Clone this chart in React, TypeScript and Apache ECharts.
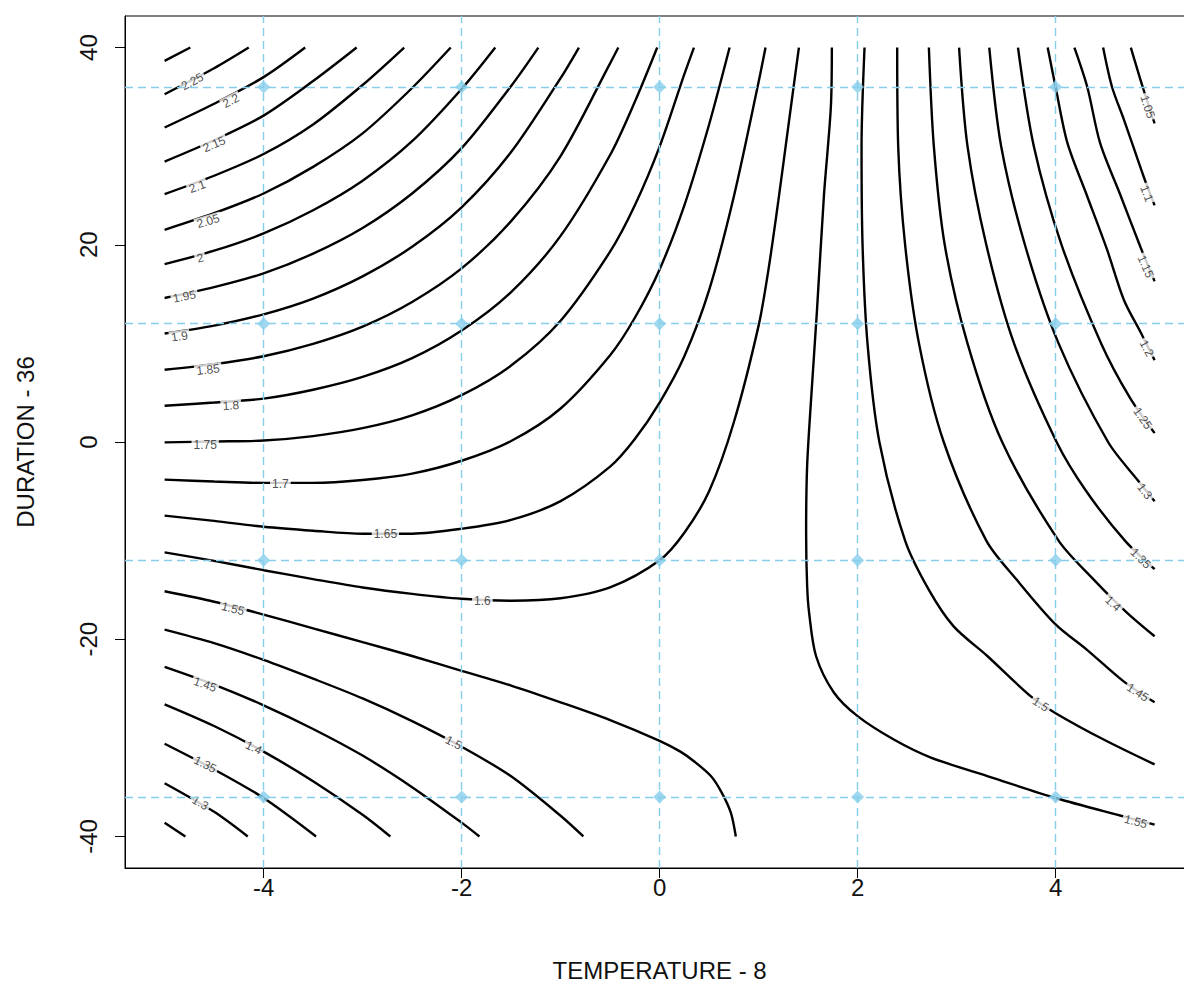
import React, { useEffect, useRef } from "react";
import * as echarts from "echarts";

const FONT = '"Liberation Sans", Arial, Helvetica, sans-serif';

// axis ticks
const xTicks = [-4, -2, 0, 2, 4];
const yTicks = [-40, -20, 0, 20, 40];

// design points (dashed reference lines pass through them)
const designX = [-4, -2, 0, 2, 4];
const designY = [-36, -12, 12, 36];

// contour polylines [x, y]
const c2_30 = [[-5, 38.65], [-4.74, 40]];
const c2_25 = [[-5, 35.27], [-4.5, 37.9], [-4.15, 40]];
const c2_20 = [[-5, 31.89], [-4.5, 34.3], [-4, 37.0], [-3.58, 40]];
const c2_15 = [[-5, 28.44], [-4.5, 30.6], [-4, 33.1], [-3.5, 36.6], [-3.06, 40]];
const c2_10 = [[-5, 25.14], [-4.5, 27.0], [-4, 29.2], [-3.5, 32.2], [-3, 36.2], [-2.58, 40]];
const c2_05 = [[-5, 21.52], [-4.5, 23.2], [-4, 25.2], [-3.5, 27.9], [-3, 31.3], [-2.5, 35.9], [-2.11, 40]];
const c2_00 = [[-5, 18.04], [-4.5, 19.4], [-4, 21.15], [-3.5, 23.5], [-3, 26.5], [-2.5, 30.5], [-2, 35.8], [-1.66, 40]];
const c1_95 = [[-5, 14.6], [-4.5, 15.7], [-4, 17.1], [-3.5, 19.1], [-3, 21.7], [-2.5, 25.2], [-2, 29.8], [-1.5, 36.1], [-1.225, 40]];
const c1_90 = [[-5, 11.0], [-4.5, 11.8], [-4, 12.95], [-3.5, 14.55], [-3, 16.8], [-2.5, 19.8], [-2, 23.8], [-1.5, 29.4], [-1, 36.9], [-0.815, 40]];
const c1_85 = [[-5, 7.33], [-4.5, 7.9], [-4, 8.7], [-3.5, 9.95], [-3, 11.7], [-2.5, 14.2], [-2, 17.6], [-1.5, 22.4], [-1, 29.0], [-0.5, 38.4], [-0.417, 40]];
const c1_80 = [[-5, 3.68], [-4.5, 4.0], [-4, 4.4], [-3.5, 5.3], [-3, 6.6], [-2.5, 8.5], [-2, 11.3], [-1.5, 15.2], [-1, 20.9], [-0.5, 29.1], [-0.25, 34.5], [-0.024, 40]];
const c1_75 = [[-5, -0.04], [-4.5, 0.05], [-4, 0.15], [-3.5, 0.6], [-3, 1.4], [-2.5, 2.7], [-2, 4.75], [-1.5, 7.75], [-1, 12.3], [-0.5, 19.3], [-0.25, 24.0], [0, 29.95], [0.25, 37.3], [0.347, 40]];
const c1_70 = [[-5, -3.82], [-4.5, -4.0], [-4, -4.15], [-3.5, -4.15], [-3, -3.85], [-2.5, -3.2], [-2, -1.9], [-1.5, 0.1], [-1, 3.4], [-0.5, 8.8], [-0.25, 12.6], [0, 17.5], [0.25, 24.0], [0.5, 32.2], [0.707, 40]];
const c1_65 = [[-5, -7.47], [-4.5, -8.0], [-4, -8.6], [-3.5, -9.0], [-3, -9.3], [-2.5, -9.3], [-2, -8.8], [-1.5, -7.9], [-1, -6.0], [-0.5, -2.5], [-0.25, 0.3], [0, 4.0], [0.25, 8.7], [0.5, 15.4], [0.75, 24.9], [1, 36.5], [1.07, 40]];
const c1_60 = [[-5, -11.19], [-4.5, -12.05], [-4, -13.0], [-3.5, -13.9], [-3, -14.75], [-2.5, -15.4], [-2, -15.9], [-1.5, -16.1], [-1, -15.85], [-0.5, -14.75], [0, -12.0], [0.25, -9.2], [0.5, -5.0], [0.75, 2.0], [1, 11.8], [1.1, 17.5], [1.2, 24.5], [1.3, 32.0], [1.36, 36.5], [1.407, 40]];
const c1_55a = [[-5, -15.14], [-4.5, -16.2], [-4, -17.5], [-3.5, -18.9], [-3, -20.3], [-2.5, -21.7], [-2, -23.2], [-1.5, -24.7], [-1, -26.4], [-0.5, -28.2], [0, -30.3], [0.21, -31.4], [0.35, -32.4], [0.52, -33.9], [0.63, -35.6], [0.72, -37.6], [0.77, -40]];
const c1_50a = [[-5, -19.03], [-4.5, -20.4], [-4, -22.1], [-3.5, -24.0], [-3, -26.0], [-2.5, -28.3], [-2, -30.9], [-1.5, -33.9], [-1, -37.9], [-0.77, -40]];
const c1_45a = [[-5, -22.8], [-4.5, -24.6], [-4, -26.7], [-3.5, -29.1], [-3, -31.8], [-2.5, -35.0], [-2, -38.6], [-1.82, -40]];
const c1_40a = [[-5, -26.6], [-4.5, -28.8], [-4, -31.4], [-3.5, -34.4], [-3, -37.8], [-2.72, -40]];
const c1_35a = [[-5, -30.6], [-4.5, -33.2], [-4, -36.1], [-3.47, -40]];
const c1_30a = [[-5, -34.6], [-4.5, -37.5], [-4.16, -40]];
const c1_25a = [[-5, -38.6], [-4.79, -40]];
const c1_55b = [[1.74, 40], [1.73, 34], [1.66, 25], [1.59, 13.4], [1.53, 4.3], [1.49, -2.5], [1.48, -9.2], [1.49, -14.5], [1.51, -17.3], [1.58, -21.7], [1.76, -25.4], [2.0, -27.8], [2.37, -30.2], [2.74, -32.0], [3.35, -34.0], [4.0, -36.1], [4.66, -37.9], [5, -38.8]];
const c1_50b = [[2.07, 40], [2.04, 30], [2.05, 20], [2.1, 10], [2.22, 0], [2.48, -10], [2.72, -15], [2.97, -18.7], [3.31, -21.7], [3.75, -25.8], [4.0, -27.5], [4.49, -30.2], [5, -32.7]];
const c1_45b = [[2.4, 40], [2.41, 30], [2.48, 20], [2.62, 10], [2.87, 0], [3.3, -10], [3.61, -14], [4.0, -18.5], [4.32, -21.1], [4.69, -24.3], [5, -26.4]];
const c1_40b = [[2.72, 40], [2.77, 30], [2.88, 20], [3.11, 10], [3.46, 0], [4.03, -10], [4.39, -14], [4.72, -17.3], [5, -19.7]];
const c1_35b = [[3.025, 40], [3.11, 30], [3.3, 20], [3.58, 10], [4.01, 0], [4.31, -5], [4.7, -10], [5, -12.9]];
const c1_30b = [[3.33, 40], [3.45, 30], [3.69, 20], [4.03, 10], [4.53, 0], [4.84, -4], [5, -6.0]];
const c1_25b = [[3.62, 40], [3.78, 30], [4.06, 20], [4.46, 10], [4.75, 4.5], [5, 0.9]];
const c1_20b = [[3.92, 40], [4.0, 36], [4.12, 30.3], [4.32, 24.9], [4.52, 19.5], [4.69, 14.4], [4.86, 11.1], [5, 8.3]];
const c1_15b = [[4.19, 40], [4.32, 36], [4.45, 30.3], [4.66, 24.9], [4.86, 19.7], [5, 16.3]];
const c1_10b = [[4.48, 40], [4.57, 36], [4.69, 32.7], [4.89, 26.9], [5, 24.0]];
const c1_05b = [[4.76, 40], [4.88, 36], [5, 32.3]];

const contours = [
  c2_30, c2_25, c2_20, c2_15, c2_10, c2_05, c2_00, c1_95, c1_90, c1_85, c1_80,
  c1_75, c1_70, c1_65, c1_60, c1_55a, c1_50a, c1_45a, c1_40a, c1_35a, c1_30a, c1_25a,
  c1_55b, c1_50b, c1_45b, c1_40b, c1_35b, c1_30b, c1_25b, c1_20b, c1_15b, c1_10b, c1_05b,
];

// contour labels: text and position on its line
const labelText = [
  "2.25", "2.2", "2.15", "2.1", "2.05", "2", "1.95", "1.9", "1.85", "1.8", "1.75", "1.7", "1.65", "1.6",
  "1.55", "1.5", "1.45", "1.4", "1.35", "1.3",
  "1.05", "1.1", "1.15", "1.2", "1.25", "1.3", "1.35", "1.4", "1.45", "1.5", "1.55",
];
const labelAt = [
  [-4.72, 36.55], [-4.33, 34.6], [-4.5, 30.2], [-4.67, 25.9], [-4.56, 22.4], [-4.64, 18.65], [-4.8, 14.75],
  [-4.85, 10.7], [-4.56, 7.33], [-4.33, 3.68], [-4.59, -0.3], [-3.83, -4.3], [-2.77, -9.35], [-1.79, -16.1],
  [-4.31, -16.9], [-2.08, -30.5], [-4.59, -24.6], [-4.1, -31.0], [-4.59, -32.7], [-4.64, -36.6],
  [4.93, 34.0], [4.92, 25.2], [4.91, 17.8], [4.92, 9.5], [4.88, 2.4], [4.9, -5.0], [4.86, -11.8],
  [4.58, -16.4], [4.83, -25.4], [3.85, -26.6], [4.81, -38.5],
];
const labelAngles = [
  28, 27, 23, 20, 17, 14, 11, 8, 7, 4, 0, 0, 0, 0,
  -14, -27, -19, -26, -27, -30,
  -72, -69, -66, -62, -55, -52, -45, -42, -33, -33, -15,
];

export default function App() {
  const ref = useRef<HTMLDivElement>(null);

  useEffect(() => {
    if (!ref.current) return;
    const chart = echarts.init(ref.current, null, { renderer: "svg" });

    const lineSeries = contours.map((pts) => ({
      type: "line",
      data: pts,
      symbol: "none",
      showSymbol: false,
      smooth: 0.3,
      silent: true,
      z: 2,
      lineStyle: { color: "#000", width: 2.4 },
    }));

    const labelData = labelText.map((t, i) => ({
      name: t,
      value: labelAt[i],
      label: { rotate: labelAngles[i] },
    }));

    const dots: number[][] = [];
    designX.forEach((x) => designY.forEach((y) => dots.push([x, y])));

    const option: any = {
      animation: false,
      grid: {
        left: 125,
        top: 16,
        width: 1069.2,
        height: 852,
        show: true,
        borderColor: "#000",
        borderWidth: 1,
      },
      xAxis: {
        type: "value",
        min: -5.4,
        max: 5.4,
        splitLine: { show: false },
        axisLine: { show: true, onZero: false, lineStyle: { color: "#000", width: 1 } },
        axisTick: { show: true, length: 10, customValues: xTicks, lineStyle: { color: "#000" } },
        axisLabel: { customValues: xTicks, fontSize: 24, color: "#111", margin: 7, fontFamily: FONT },
        name: "TEMPERATURE - 8",
        nameLocation: "middle",
        nameGap: 90,
        nameTextStyle: { fontSize: 24, color: "#111", fontFamily: FONT },
      },
      yAxis: {
        type: "value",
        min: -43.2,
        max: 43.2,
        splitLine: { show: false },
        axisLine: { show: true, onZero: false, lineStyle: { color: "#000", width: 1 } },
        axisTick: { show: true, length: 10, customValues: yTicks, lineStyle: { color: "#000" } },
        axisLabel: { customValues: yTicks, rotate: 90, fontSize: 24, color: "#111", margin: 25, fontFamily: FONT },
        name: "DURATION - 36",
        nameLocation: "middle",
        nameGap: 88,
        nameTextStyle: { fontSize: 24, color: "#111", fontFamily: FONT },
      },
      series: [
        ...lineSeries,
        {
          type: "scatter",
          data: labelData,
          symbol: "circle",
          symbolSize: 1,
          silent: true,
          z: 3,
          itemStyle: { color: "rgba(0,0,0,0)" },
          label: {
            show: true,
            position: "inside",
            formatter: "{b}",
            fontSize: 12,
            color: "#222",
            textBorderWidth: 0,
            textBorderColor: "transparent",
            fontFamily: FONT,
            backgroundColor: "#fff",
            padding: [0, 2],
          },
        },
        {
          type: "scatter",
          data: dots,
          symbol: "diamond",
          symbolSize: 13,
          silent: true,
          z: 6,
          itemStyle: { color: "#87CEEB" },
          markLine: {
            silent: true,
            symbol: ["none", "none"],
            label: { show: false },
            z: 5,
            lineStyle: { color: "#87CEEB", width: 1.4, type: [8, 5] },
            data: [
              ...designX.map((v) => ({ xAxis: v })),
              ...designY.map((v) => ({ yAxis: v })),
            ],
          },
        },
      ],
    };

    chart.setOption(option);
    return () => chart.dispose();
  }, []);

  return (
    <div
      style={{
        position: "absolute",
        left: 0,
        top: 0,
        width: 1184,
        height: 987,
        overflow: "hidden",
        background: "#fff",
      }}
    >
      <div ref={ref} style={{ width: 1210, height: 987 }} />
    </div>
  );
}
